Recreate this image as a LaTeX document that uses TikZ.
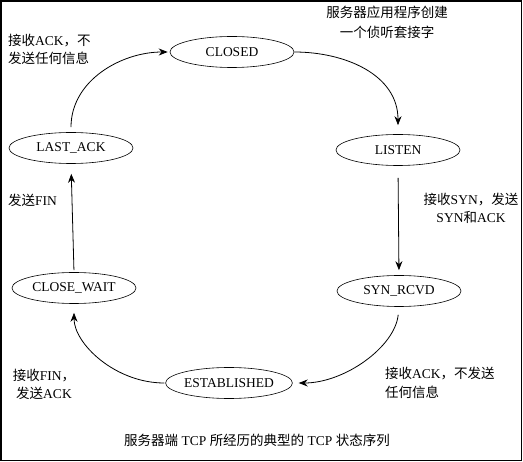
\documentclass[tikz,border=0pt]{standalone}
\usepackage{fontspec}
\setmainfont{Liberation Serif}
\newfontfamily\cjk{Noto Sans CJK SC}
\usetikzlibrary{shapes.geometric,arrows.meta}
\newcommand\zh[1]{{\cjk #1}}
\begin{document}
\begin{tikzpicture}[x=1pt,y=-1pt,
  every node/.style={font=\fontsize{13.5}{18}\selectfont},
  state/.style={ellipse,draw,line width=0.6pt,minimum width=124pt,minimum height=31pt,inner sep=0pt},
  lbl/.style={inner sep=0pt},
  arr/.style={line width=0.8pt,-{Stealth[length=9pt,width=7pt]}}]
\useasboundingbox (0,0) rectangle (523,462);
\draw[line width=1.5pt] (1,1) rectangle (521.5,460.5);

\node[state] (closed) at (232,52) {CLOSED};
\node[state] (listen) at (398,150) {LISTEN};
\node[state] (synrcvd) at (399,291) {SYN\_RCVD};
\node[state] (estab) at (229,383) {ESTABLISHED};
\node[state] (closewait) at (74,288) {CLOSE\_WAIT};
\node[state] (lastack) at (71,148) {LAST\_ACK};

\draw[arr,shorten <=5pt,shorten >=2pt] (lastack.north) .. controls +(0,-52) and +(-48,0) .. (closed.west);
\draw[arr,shorten >=9pt] (closed.east) .. controls +(50,0) and +(0,-60) .. (listen.north);
\draw[arr,shorten <=12pt,shorten >=5pt] (listen.south) -- (synrcvd.north);
\draw[arr,shorten <=8pt,shorten >=6pt] (synrcvd.south) .. controls +(-4,40) and +(52,0) .. (estab.east);
\draw[arr,shorten <=1pt,shorten >=9pt] (estab.west) .. controls +(-50,0) and +(0,40) .. (closewait.south);
\draw[arr,shorten <=2pt,shorten >=10pt] (closewait.north) -- (lastack.south);

\node[lbl,align=center,font=\fontsize{13.5}{20}\selectfont] (l1) at (387,22) {\zh{服务器应用程序创建}\\\zh{一个侦听套接字}};
\node[lbl,align=left,anchor=west] (l2) at (8,49) {\zh{接收}ACK\zh{，不}\\\zh{发送任何信息}};
\node[lbl,anchor=west] (l3) at (8,200) {\zh{发送}FIN};
\node[lbl,align=center,font=\fontsize{13.5}{17.5}\selectfont] (l4) at (471,208.5) {\zh{接收}SYN\zh{，发送}\\SYN\zh{和}ACK};
\node[lbl,align=center] (l5) at (44,384) {\zh{接收}FIN\zh{，}\\\zh{发送}ACK};
\node[lbl,align=left,anchor=west,font=\fontsize{13.5}{19}\selectfont] (l6) at (385,382.5) {\zh{接收}ACK\zh{，不发送}\\\zh{任何信息}};
\node[lbl] (cap) at (257,440) {\zh{服务器端} TCP \zh{所经历的典型的} TCP \zh{状态序列}};
\end{tikzpicture}
\end{document}
